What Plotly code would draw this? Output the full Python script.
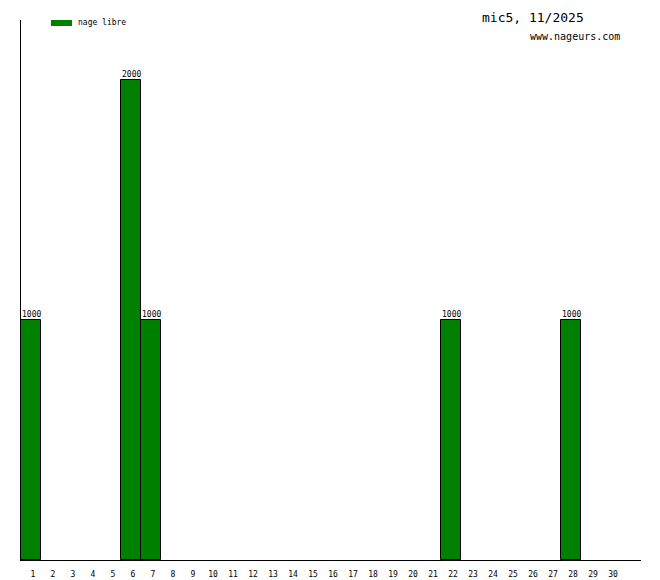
import plotly.graph_objects as go

days = list(range(1, 31))
values = [1000, 0, 0, 0, 0, 2000, 1000, 0, 0, 0, 0, 0, 0, 0, 0,
          0, 0, 0, 0, 0, 0, 1000, 0, 0, 0, 0, 0, 1000, 0, 0]
series_name = "nage libre"
title_text = "mic5, 11/2025"
site_text = "www.nageurs.com"

bar_x = [d for d, v in zip(days, values) if v > 0]
bar_y = [v for v in values if v > 0]

mono = "DejaVu Sans Mono"

# page body offset; plot area should land at screen x 20..640, y 20..560
OFFX, OFFY = 7, 8
L, T = 20 - OFFX, 20 - OFFY
PW, PH = 620, 540
W, H = 660, 580

def px(xs):
    return (xs - OFFX - L) / PW

def py(ys):
    return 1 - (ys - OFFY - T) / PH

fig = go.Figure()
fig.add_trace(go.Bar(
    x=bar_x, y=bar_y, width=1.0,
    marker=dict(color="#008000", line=dict(color="black", width=1)),
    name=series_name, showlegend=False, hoverinfo="x+y",
))

value_labels = [dict(x=xv, y=yv, text=str(yv), xref="x", yref="y",
                     xanchor="center", yanchor="bottom", showarrow=False,
                     yshift=-1, font=dict(family=mono, size=8, color="black"))
                for xv, yv in zip(bar_x, bar_y)]

fig.update_layout(
    width=W, height=H,
    margin=dict(l=L, r=W - L - PW, t=T, b=H - T - PH),
    plot_bgcolor="white", paper_bgcolor="white",
    bargap=0,
    xaxis=dict(range=[0.5, 31.5], tickmode="array", tickvals=days,
               ticktext=[str(d) for d in days], showgrid=False, zeroline=False,
               showline=True, linecolor="black", linewidth=1,
               ticks="", ticklabelstandoff=6, ticklabelshift=2, automargin=False,
               tickfont=dict(family=mono, size=8, color="black")),
    yaxis=dict(range=[0, 2250], showgrid=False, zeroline=False,
               showline=True, linecolor="black", linewidth=1,
               showticklabels=False, ticks="", automargin=False),
    shapes=[dict(type="rect", xref="paper", yref="paper",
                 x0=px(50), x1=px(71), y0=py(26), y1=py(20),
                 fillcolor="#008000", line=dict(width=0))],
    annotations=value_labels + [
        dict(text=series_name, xref="paper", yref="paper", x=px(75), y=py(23),
             xanchor="left", yanchor="middle", showarrow=False,
             font=dict(family=mono, size=8, color="black")),
        dict(text=title_text, xref="paper", yref="paper", x=px(532), y=py(18),
             xanchor="center", yanchor="middle", showarrow=False,
             font=dict(family=mono, size=13, color="black")),
        dict(text=site_text, xref="paper", yref="paper", x=px(574), y=py(37),
             xanchor="center", yanchor="middle", showarrow=False,
             font=dict(family=mono, size=10, color="black")),
    ],
)

fig.write_html("out.html")
